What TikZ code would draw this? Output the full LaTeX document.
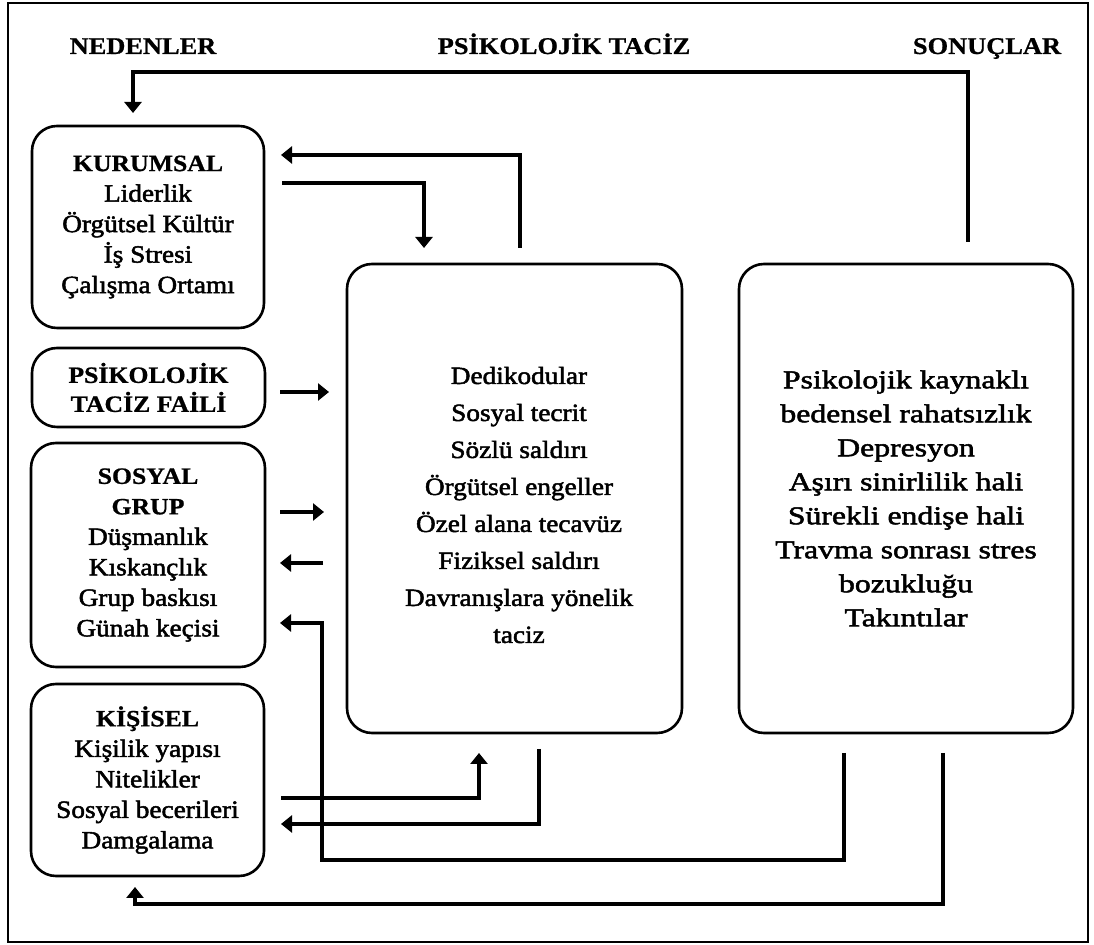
\documentclass[tikz,border=0pt]{standalone}
\usepackage{fontspec}
\setmainfont{Liberation Serif}[FakeStretch=1.1, UprightFeatures={FakeBold=2}, BoldFeatures={FakeBold=0.8}]
\newfontfamily\rfont{Liberation Serif}[FakeStretch=1.24, FakeBold=2]
\usetikzlibrary{arrows.meta}
\tikzset{
  box/.style={draw, line width=1.3pt, rounded corners=12.5pt, align=center, inner sep=0pt},
  body/.style={font=\fontsize{12.4}{15.25}\selectfont},
  txt/.style={align=center, inner sep=0pt},
  arr/.style={line width=1.6pt, -{Triangle[length=5.5pt,width=8.5pt]}},
  head/.style={font=\bfseries\fontsize{12}{14}\selectfont, anchor=base},
}
\newcommand{\hd}[1]{{\bfseries\fontsize{11.7}{15.25}\selectfont #1}}
\begin{document}
\begin{tikzpicture}[x=0.5pt,y=-0.5pt]
\useasboundingbox (0,0) rectangle (1094,945);
\fill[white] (0,0) rectangle (1094,945);
\draw[line width=0.85pt] (8,3) rectangle (1088,942);

% headers
\node[head] (hNed) at (143,54) {NEDENLER};
\node[head] (hPsi) at (564,54) {PSİKOLOJİK TACİZ};
\node[head] (hSon) at (987,54) {SONUÇLAR};

% left boxes
\node[box, body, minimum width=116pt, minimum height=101pt] (kur) at (148,227)
  {\hd{KURUMSAL}\\Liderlik\\Örgütsel Kültür\\İş Stresi\\Çalışma Ortamı};
\node[box, minimum width=116.5pt, minimum height=39.5pt, font=\bfseries\fontsize{11.7}{14.5}\selectfont] (fail) at (148.5,387.5)
  {PSİKOLOJİK\\TACİZ FAİLİ};
\node[box, body, minimum width=117pt, minimum height=112pt] (sos) at (148,555)
  {\hd{SOSYAL}\\\hd{GRUP}\\Düşmanlık\\Kıskançlık\\Grup baskısı\\Günah keçisi};
\node[box, body, minimum width=116.5pt, minimum height=96pt] (kis) at (147.5,780)
  {\hd{KİŞİSEL}\\Kişilik yapısı\\Nitelikler\\Sosyal becerileri\\Damgalama};

% middle and right boxes
\node[box, minimum width=167.5pt, minimum height=234.5pt] (mid) at (514.5,498.5) {};
\node[txt, font=\fontsize{12.4}{18.5}\selectfont] (midText) at (519,505)
  {Dedikodular\\Sosyal tecrit\\Sözlü saldırı\\Örgütsel engeller\\Özel alana tecavüz\\Fiziksel saldırı\\Davranışlara yönelik\\taciz};
\node[box, minimum width=167pt, minimum height=234.5pt, font=\rfont\fontsize{12.8}{17}\selectfont] (res) at (906,498.5)
  {Psikolojik kaynaklı\\bedensel rahatsızlık\\Depresyon\\Aşırı sinirlilik hali\\Sürekli endişe hali\\Travma sonrası stres\\bozukluğu\\Takıntılar};

% connector end points
\coordinate (resTop) at (968,242);
\coordinate (kurTop) at (133,113);
\coordinate (midTopR) at (520,248);
\coordinate (kurR1) at (281,155);
\coordinate (kurR2) at (282,183);
\coordinate (midTopL) at (424,248);
\coordinate (failR) at (280,392);
\coordinate (midL1) at (329,392);
\coordinate (sosR1) at (280,512);
\coordinate (midL2) at (324,512);
\coordinate (midL3) at (323,563);
\coordinate (sosR2) at (280,563);
\coordinate (resBot1) at (844,753);
\coordinate (sosR3) at (280,623);
\coordinate (kisR1) at (281,798);
\coordinate (midBot1) at (479,753);
\coordinate (midBot2) at (539,749);
\coordinate (kisR2) at (281,824);
\coordinate (resBot2) at (943,753);
\coordinate (kisBot) at (135,887);

% connectors
\draw[arr] (resTop) -- (968,72) -| (kurTop);
\draw[arr] (midTopR) |- (kurR1);
\draw[arr] (kurR2) -| (midTopL);
\draw[arr] (failR) -- (midL1);
\draw[arr] (sosR1) -- (midL2);
\draw[arr] (midL3) -- (sosR2);
\draw[arr] (resBot1) -- (844,860) -- (322,860) |- (sosR3);
\draw[arr] (kisR1) -| (midBot1);
\draw[arr] (midBot2) |- (kisR2);
\draw[arr] (resBot2) -- (943,904) -| (kisBot);
\end{tikzpicture}
\end{document}
